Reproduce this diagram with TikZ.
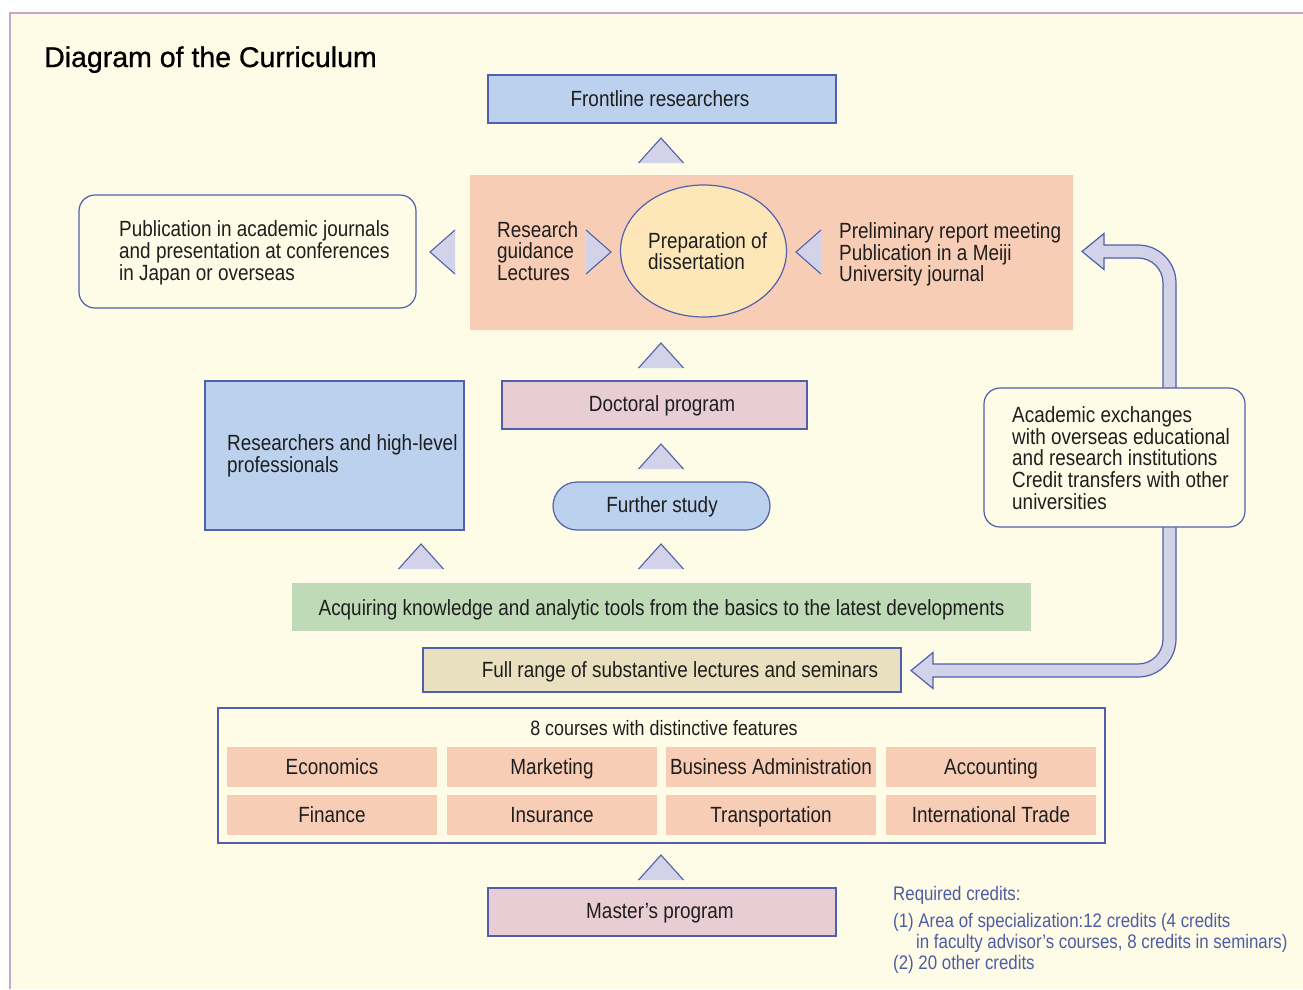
\documentclass[tikz,border=0pt]{standalone}
\usepackage{fontspec}
\setmainfont{Liberation Sans}[FakeStretch=0.86]
\newfontfamily\titlefont{Liberation Sans}[FakeBold=0.8]
\usetikzlibrary{shapes.geometric}
\definecolor{bgc}{HTML}{FEFCE6}
\definecolor{framec}{HTML}{C4A8CC}
\definecolor{bd}{HTML}{5060AC}
\definecolor{tri}{HTML}{D2D2E8}
\definecolor{lblue}{HTML}{BBD1EE}
\definecolor{salmon}{HTML}{F8CDB6}
\definecolor{ellc}{HTML}{FDE7B9}
\definecolor{pinkc}{HTML}{E8CDD5}
\definecolor{gbar}{HTML}{BEDAB6}
\definecolor{khaki}{HTML}{E8E0BE}
\definecolor{txt}{HTML}{1E1E1E}
\definecolor{credc}{HTML}{4E5CA6}
\newcommand\TriUp[2]{%
  \fill[tri] (#1-22.5,#2+25) -- (#1,#2) -- (#1+22.5,#2+25) -- cycle;
  \draw[tribd] (#1-22.5,#2+25) -- (#1,#2) -- (#1+22.5,#2+25);}
\newcommand\TriLeft[2]{%
  \fill[tri] (#1+25,#2-22) -- (#1,#2) -- (#1+25,#2+22) -- cycle;
  \draw[tribd] (#1+25,#2-22) -- (#1,#2) -- (#1+25,#2+22);}
\newcommand\TriRight[2]{%
  \fill[tri] (#1-25,#2-22) -- (#1,#2) -- (#1-25,#2+22) -- cycle;
  \draw[tribd] (#1-25,#2-22) -- (#1,#2) -- (#1-25,#2+22);}
\begin{document}
\begin{tikzpicture}[x=1pt,y=-1pt,
  font=\fontsize{22}{21.7}\selectfont, text=txt,
  tribd/.style={draw=bd, line width=1.1pt, line join=miter},
  boxx/.style={draw=bd, line width=1.2pt, inner sep=0pt},
  lbl/.style={inner sep=0pt, align=left, anchor=west},
  ctr/.style={inner sep=0pt, align=center, text height=15.8pt, text depth=0pt},
  cell/.style={fill=salmon, minimum width=210pt, minimum height=40pt, inner sep=0pt, text height=15.8pt, text depth=0pt},
  bigarrow/.style={fill=tri, draw=bd, line width=1.2pt, line join=miter}]
\useasboundingbox (0,0) rectangle (1303,989);
\fill[white] (0,0) rectangle (1303,989);
\fill[bgc] (10,13) rectangle (1303,989);
\draw[framec, line width=1.5pt] (10,989) -- (10,13) -- (1303,13);

% title
\node[anchor=base west, inner sep=0pt, text=black, font=\titlefont\fontsize{28.5}{30}\selectfont] (title) at (44,67) {Diagram of the Curriculum};

% big arrows (drawn first, boxes cover their ends)
\draw[bigarrow] (1082,251.5) -- (1104,233.5) -- (1104,245) -- (1138,245)
  .. controls (1159,245) and (1176,262) .. (1176,283) -- (1176,392) -- (1163,392) -- (1163,283)
  .. controls (1163,269.2) and (1151.8,258) .. (1138,258) -- (1104,258) -- (1104,269.5) -- cycle;
\draw[bigarrow] (911,670.5) -- (933,652.5) -- (933,664) -- (1138,664)
  .. controls (1151.8,664) and (1163,652.8) .. (1163,639) -- (1163,522) -- (1176,522) -- (1176,639)
  .. controls (1176,660) and (1159,677) .. (1138,677) -- (933,677) -- (933,688.5) -- cycle;

% top
\node[boxx, fill=lblue, minimum width=348pt, minimum height=48pt] (front) at (662,99) {};
\node[ctr] (frontt) at (660,99) {Frontline researchers};
\TriUp{661}{138}

% research block
\node[fill=salmon, minimum width=603pt, minimum height=155pt, inner sep=0pt] (res) at (771.5,252.5) {};
\node[boxx, rounded corners=16pt, fill=bgc, minimum width=337pt, minimum height=113pt] (pub) at (247.5,251.5) {};
\node[lbl] (pubt) at (119,253) {Publication in academic journals\\and presentation at conferences\\in Japan or overseas};
\TriLeft{430}{252}
\node[lbl] (rgl) at (497,251) {Research\\guidance\\Lectures};
\TriRight{611}{252}
\node[ellipse, draw=bd, line width=1.2pt, fill=ellc, minimum width=166pt, minimum height=132pt, inner sep=0pt] (diss) at (703.5,251) {};
\node[lbl] (disst) at (648,251) {Preparation of\\dissertation};
\TriLeft{796}{252}
\node[lbl] (prel) at (839,254.5) {Preliminary report meeting\\Publication in a Meiji\\University journal};

\TriUp{661}{343}
\node[boxx, fill=pinkc, minimum width=305pt, minimum height=48pt] (doc) at (654.5,405) {};
\node[ctr] (doct) at (662,404) {Doctoral program};

\node[boxx, fill=lblue, minimum width=259pt, minimum height=149pt] (rhp) at (334.5,455.5) {};
\node[lbl] (rhpt) at (227,456) {Researchers and high-level\\professionals};

\TriUp{661}{444}
\node[boxx, rounded corners=24pt, fill=lblue, minimum width=217pt, minimum height=48pt] (further) at (661.5,506) {};
\node[ctr] (furthert) at (662,505) {Further study};

\node[boxx, rounded corners=16pt, fill=bgc, minimum width=261pt, minimum height=139pt] (acad) at (1114.5,457.5) {};
\node[lbl] (acadt) at (1012,458) {Academic exchanges\\with overseas educational\\and research institutions\\Credit transfers with other\\universities};

\TriUp{421}{544}
\TriUp{661}{544}
\node[fill=gbar, minimum width=739pt, minimum height=48pt, inner sep=0pt] (acq) at (661.5,607) {};
\node[ctr] (acqt) at (661.5,608) {Acquiring knowledge and analytic tools from the basics to the latest developments};

\node[boxx, fill=khaki, minimum width=478pt, minimum height=44pt] (full) at (662,670) {};
\node[ctr] (fullt) at (680,670) {Full range of substantive lectures and seminars};

% courses
\node[boxx, fill=bgc, minimum width=887pt, minimum height=135pt] (courses) at (661.5,775.5) {};
\node[ctr, font=\fontsize{20.8}{22}\selectfont, text height=14.5pt] (coursest) at (664,728) {8 courses with distinctive features};
\node[cell] (c1) at (332,767) {Economics};
\node[cell] (c2) at (552,767) {Marketing};
\node[cell] (c3) at (771,767) {Business Administration};
\node[cell] (c4) at (991,767) {Accounting};
\node[cell] (c5) at (332,814.5) {Finance};
\node[cell] (c6) at (552,814.5) {Insurance};
\node[cell] (c7) at (771,814.5) {Transportation};
\node[cell] (c8) at (991,814.5) {International Trade};

\TriUp{661}{855}
\node[boxx, fill=pinkc, minimum width=348pt, minimum height=48pt] (master) at (662,912) {};
\node[ctr] (mastert) at (660,911) {Master’s program};

% credits
\begin{scope}[every node/.style={lbl, text=credc, font=\fontsize{19.6}{21}\selectfont}]
\node (cr0) at (893,895) {Required credits:};
\node (cr1) at (893,922) {(1) Area of specialization:12 credits (4 credits};
\node (cr2) at (916,943) {in faculty advisor’s courses, 8 credits in seminars)};
\node (cr3) at (893,964) {(2) 20 other credits};
\end{scope}
\end{tikzpicture}
\end{document}
